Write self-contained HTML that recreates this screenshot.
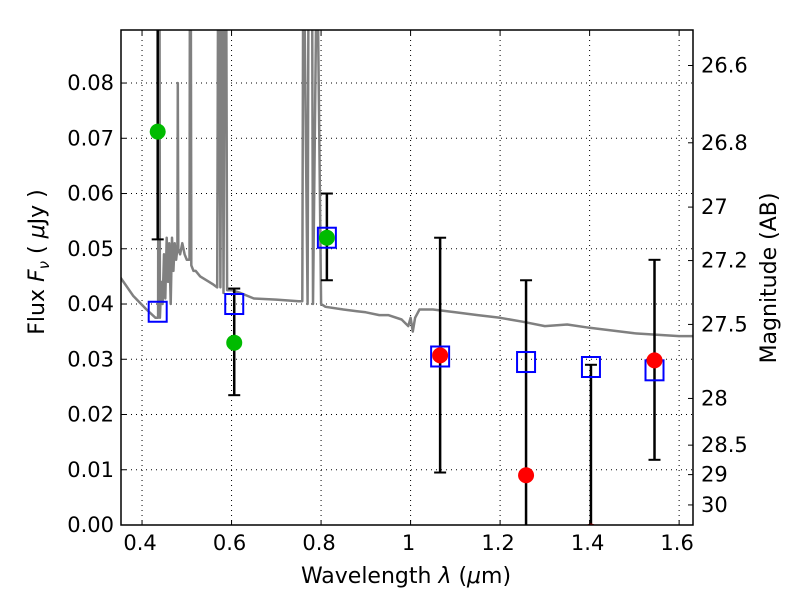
<!DOCTYPE html>
<html><head><meta charset="utf-8">
<style>
body{margin:0;background:#fff;}
svg{display:block;font-family:"DejaVu Sans","Liberation Sans",sans-serif;}
</style></head>
<body>
<svg id="chart" width="800" height="600" viewBox="0 0 800 600" xmlns="http://www.w3.org/2000/svg">
<rect width="800" height="600" fill="#fff"/>
<g id="grid"></g>
<g id="spec"></g>
<g id="marks"></g>
<g id="axes"></g>
</svg>
<script>
const xTicks=[0.4,0.6,0.8,1.0,1.2,1.4,1.6];
const xTickLabels=["0.4","0.6","0.8","1","1.2","1.4","1.6"];
const yTicks=[0,0.01,0.02,0.03,0.04,0.05,0.06,0.07,0.08];
const yTickLabels=["0.00","0.01","0.02","0.03","0.04","0.05","0.06","0.07","0.08"];
const magTicks=[26.6,26.8,27,27.2,27.5,28,28.5,29,30];
const magLabels=["26.6","26.8","27","27.2","27.5","28","28.5","29","30"];
const specWave=[0.35,0.38,0.41,0.43,0.436,0.437,0.439,0.44,0.443,0.446,0.449,0.452,0.455,0.458,0.461,0.464,0.467,0.47,0.473,0.476,0.479,0.48,0.481,0.485,0.49,0.495,0.5,0.506,0.507,0.509,0.51,0.515,0.52,0.53,0.54,0.55,0.56,0.568,0.57,0.572,0.575,0.578,0.58,0.582,0.585,0.588,0.59,0.6,0.62,0.65,0.7,0.75,0.758,0.76,0.762,0.77,0.772,0.78,0.782,0.79,0.792,0.8,0.81,0.85,0.88,0.9,0.93,0.95,0.98,0.995,1.0,1.005,1.01,1.02,1.05,1.1,1.15,1.2,1.25,1.3,1.35,1.4,1.5,1.6,1.63];
const specFlux=[0.045,0.0415,0.039,0.0375,0.0375,0.1,0.1,0.0375,0.044,0.040,0.049,0.041,0.052,0.044,0.051,0.040,0.052,0.046,0.051,0.048,0.050,0.080,0.050,0.049,0.051,0.049,0.048,0.048,0.1,0.1,0.047,0.046,0.046,0.045,0.0445,0.044,0.0435,0.043,0.1,0.1,0.043,0.1,0.1,0.042,0.1,0.1,0.0425,0.0425,0.042,0.041,0.0408,0.0405,0.0405,0.1,0.1,0.040,0.1,0.1,0.040,0.1,0.1,0.040,0.0395,0.039,0.0387,0.0385,0.038,0.038,0.0372,0.036,0.0375,0.035,0.0375,0.039,0.039,0.0385,0.038,0.0375,0.0368,0.036,0.0363,0.0357,0.0347,0.0342,0.0342];
const bandWave=[0.435,0.606,0.813,1.066,1.258,1.403,1.545];
const obsFlux=[0.0712,0.033,0.052,0.0307,0.009,-0.0012,0.0298];
const errLow=[0.0517,0.0235,0.0443,0.0095,-0.01,-0.01,0.0118];
const errHigh=[0.10,0.0428,0.060,0.052,0.0443,0.029,0.048];
const modelFlux=[0.0386,0.040,0.052,0.0305,0.0295,0.0286,0.028];
const obsColor=["#00bb00","#00bb00","#00bb00","#ff0000","#ff0000","#ff0000","#ff0000"];

const L=121,R=693,T=30,B=525,XMIN=0.353,XMAX=1.631,YMAX=0.0896;
const sx=v=>L+(v-XMIN)/(XMAX-XMIN)*(R-L);
const sy=v=>B-v/YMAX*(B-T);
const NS="http://www.w3.org/2000/svg";
function mk(tag,attrs,parent){const e=document.createElementNS(NS,tag);for(const k in attrs)e.setAttribute(k,attrs[k]);parent.appendChild(e);return e;}
const grid=document.getElementById('grid'),spec=document.getElementById('spec'),marks=document.getElementById('marks'),axes=document.getElementById('axes');
const defs=mk('defs',{},document.getElementById('chart'));
const cp=mk('clipPath',{id:'pc'},defs);mk('rect',{x:L,y:T,width:R-L,height:B-T},cp);
spec.setAttribute('clip-path','url(#pc)');marks.setAttribute('clip-path','url(#pc)');

xTicks.forEach((t,i)=>{const x=sx(t);
 const g=mk('line',{x1:x,x2:x,y1:T,y2:B,stroke:'#000','stroke-width':1,'stroke-dasharray':'1,4'},grid);
 
 mk('line',{x1:x,x2:x,y1:B,y2:B-5,stroke:'#000'},axes);mk('line',{x1:x,x2:x,y1:T,y2:T+5,stroke:'#000'},axes);
 const tx=mk('text',{x:x-2,y:B+25,'font-size':21,'text-anchor':'middle'},axes);tx.textContent=xTickLabels[i];
 });
yTicks.forEach((t,i)=>{const y=sy(t);
 const g=mk('line',{x1:L,x2:R,y1:y,y2:y,stroke:'#000','stroke-width':1,'stroke-dasharray':'1,4'},grid);
 
 mk('line',{x1:L,x2:L+5,y1:y,y2:y,stroke:'#000'},axes);
 const tx=mk('text',{x:L-7,y:y+7,'font-size':21,'text-anchor':'end'},axes);tx.textContent=yTickLabels[i];
 });
magTicks.forEach((m,i)=>{const y=sy(Math.pow(10,(23.9-m)/2.5));
 mk('line',{x1:R,x2:R-5,y1:y,y2:y,stroke:'#000'},axes);
 const tx=mk('text',{x:R+8,y:y+7,'font-size':21},axes);tx.textContent=magLabels[i];
 });

let d='';specWave.forEach((w,i)=>{d+=(i?'L':'M')+sx(w).toFixed(1)+','+sy(specFlux[i]).toFixed(1);});
const sp=mk('path',{d:d,fill:'none',stroke:'#808080','stroke-width':2.5,'stroke-linejoin':'round'},spec);


bandWave.forEach((w,i)=>{const x=sx(w);
 const eb=mk('g',{},marks);
 mk('line',{x1:x,x2:x,y1:sy(errLow[i]),y2:sy(errHigh[i]),stroke:'#000','stroke-width':2.5},eb);
 [errLow[i],errHigh[i]].forEach(v=>mk('line',{x1:x-6,x2:x+6,y1:sy(v),y2:sy(v),stroke:'#000','stroke-width':2},eb));
 const bx=mk('rect',{x:x-9,y:sy(modelFlux[i])-10,width:18,height:20,fill:'none',stroke:'#0000ff','stroke-width':2},marks);
 
 const c=mk('circle',{cx:x,cy:sy(obsFlux[i]),r:8,fill:obsColor[i]},marks);
 });

const fr=mk('rect',{x:L,y:T,width:R-L,height:B-T,fill:'none',stroke:'#000','stroke-width':1.5},axes);

const xl=mk('text',{x:406,y:583,'font-size':22,'text-anchor':'middle'},axes);
xl.innerHTML='Wavelength  <tspan font-style="italic">λ</tspan> (<tspan font-style="italic">μ</tspan>m)';

xl.setAttribute('xml:space','preserve');
const yl=mk('text',{x:0,y:0,'font-size':22,'text-anchor':'middle',transform:'translate(44,262) rotate(-90)'},axes);
yl.setAttribute('xml:space','preserve');
yl.innerHTML='Flux  <tspan font-style="italic">F</tspan><tspan font-style="italic" font-size="15" dy="5">ν</tspan><tspan dy="-5">  (  </tspan><tspan font-style="italic">μ</tspan>Jy )';

const ml=mk('text',{x:0,y:0,'font-size':22,'text-anchor':'middle',transform:'translate(776,278) rotate(-90)'},axes);
ml.textContent='Magnitude (AB)';

</script>
</body></html>
